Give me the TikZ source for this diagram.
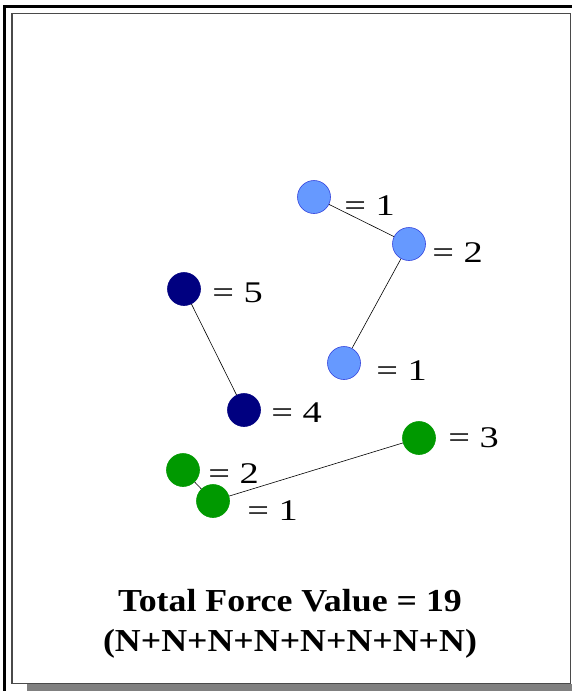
\documentclass[tikz,border=0pt]{standalone}
\usepackage{fontspec}
\setmainfont{Liberation Serif}
\definecolor{lblue}{HTML}{6699FF}
\definecolor{lblueb}{HTML}{3344DD}
\definecolor{navy}{HTML}{000080}
\definecolor{grn}{HTML}{009900}
\definecolor{framegray}{HTML}{4A4A4A}
\definecolor{shadowgray}{HTML}{808080}
\tikzset{
  dot/.style={circle, minimum size=33pt, inner sep=0pt, line width=0.6pt},
  lb/.style={dot, fill=lblue, draw=lblueb},
  nv/.style={dot, fill=navy, draw=navy},
  gr/.style={dot, fill=grn, draw=grn},
  val/.style={anchor=base west, inner sep=0pt, font=\fontsize{30}{31}\selectfont, xscale=1.28},
  link/.style={black, line width=0.6pt},
  title/.style={anchor=base, inner sep=0pt, font=\fontsize{32}{34}\selectfont\bfseries, xscale=1.12}
}
\begin{document}
\begin{tikzpicture}[x=1pt, y=-1pt]
\useasboundingbox (0,0) rectangle (571,691);
% shadow
\fill[shadowgray] (27,684) rectangle (575,695);
% inner box
\draw[framegray, line width=1.6pt, fill=white] (12,13.5) rectangle (570.5,683.5);
% outer black frame
\draw[black, line width=3pt] (4.5,695) -- (4.5,6) -- (575,6);

% light blue group
\node[lb] (a) at (314,197) {};
\node[lb] (b) at (409,244) {};
\node[lb] (c) at (344,363) {};
% navy group
\node[nv] (d) at (184,289) {};
\node[nv] (e) at (244,410) {};
% green group
\node[gr] (f) at (183,470) {};
\node[gr] (g) at (213,501) {};
\node[gr] (h) at (419,438) {};

\draw[link] (a) -- (b);
\draw[link] (b) -- (c);
\draw[link] (d) -- (e);
\draw[link] (f) -- (g);
\draw[link] (g) -- (h);

\node[val] (la) at (344,215) {= 1};
\node[val] (lb2) at (432,262) {= 2};
\node[val] (lc) at (376,380) {= 1};
\node[val] (ld) at (212,302) {= 5};
\node[val] (le) at (271,422) {= 4};
\node[val] (lf) at (208,483) {= 2};
\node[val] (lg) at (247,520) {= 1};
\node[val] (lh) at (448,447) {= 3};

\node[title] (t1) at (290,611) {Total Force Value = 19};
\node[title] (t2) at (290,651) {(N+N+N+N+N+N+N+N)};
\end{tikzpicture}
\end{document}
